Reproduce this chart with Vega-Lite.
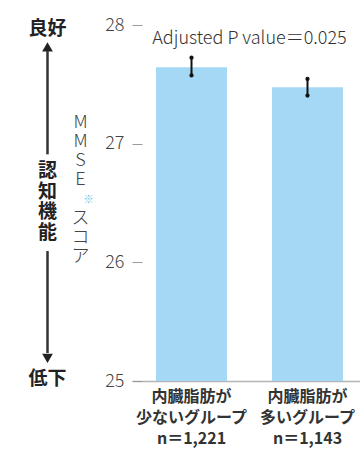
{
  "$schema": "https://vega.github.io/schema/vega-lite/v6.json",
  "padding": {"left": 0, "top": 16, "right": 0, "bottom": 12},
  "bounds": "flush",
  "spacing": 37,
  "config": {"view": {"stroke": null}, "font": "Noto Sans CJK JP"},
  "hconcat": [
    {
      "width": 95,
      "height": 356,
      "layer": [
        {
          "data": {"values": [{"label": "良好", "v": 27.97}, {"label": "低下", "v": 25.02}]},
          "mark": {"type": "text", "fontSize": 19, "fontWeight": "bold", "color": "#222", "baseline": "middle"},
          "encoding": {
            "y": {"field": "v", "type": "quantitative", "scale": {"domain": [25, 28], "nice": false, "zero": false}, "axis": null},
            "text": {"field": "label"}
          }
        },
        {
          "data": {"values": [{"y1": 27.78, "y2": 26.91}, {"y1": 26.095, "y2": 25.236}]},
          "mark": {"type": "rule", "color": "#333", "strokeWidth": 2.5},
          "encoding": {
            "y": {"field": "y1", "type": "quantitative", "scale": {"domain": [25, 28], "nice": false, "zero": false}, "axis": null},
            "y2": {"field": "y2"}
          }
        },
        {
          "data": {"values": [{}]},
          "mark": {"type": "point", "shape": "triangle-up", "filled": true, "color": "#222", "size": 115, "opacity": 1},
          "encoding": {"y": {"datum": 27.815, "type": "quantitative", "scale": {"domain": [25, 28], "nice": false, "zero": false}, "axis": null}}
        },
        {
          "data": {"values": [{}]},
          "mark": {"type": "point", "shape": "triangle-down", "filled": true, "color": "#222", "size": 115, "opacity": 1},
          "encoding": {"y": {"datum": 25.19, "type": "quantitative", "scale": {"domain": [25, 28], "nice": false, "zero": false}, "axis": null}}
        },
        {
          "data": {"values": [{}]},
          "mark": {"type": "text", "fontSize": 19, "fontWeight": "bold", "color": "#222", "baseline": "middle", "lineHeight": 20.7},
          "encoding": {
            "y": {"datum": 26.77, "type": "quantitative", "scale": {"domain": [25, 28], "nice": false, "zero": false}, "axis": null},
            "text": {"value": ["認", "知", "機", "能"]}
          }
        },
        {
          "data": {"values": [{}]},
          "mark": {"type": "text", "fontSize": 18, "fontWeight": 300, "color": "#444", "baseline": "middle", "dx": 33},
          "encoding": {"y": {"datum": 27.174, "type": "quantitative", "scale": {"domain": [25, 28], "nice": false, "zero": false}, "axis": null}, "text": {"value": "M"}}
        },
        {
          "data": {"values": [{}]},
          "mark": {"type": "text", "fontSize": 18, "fontWeight": 300, "color": "#444", "baseline": "middle", "dx": 33},
          "encoding": {"y": {"datum": 27.013, "type": "quantitative", "scale": {"domain": [25, 28], "nice": false, "zero": false}, "axis": null}, "text": {"value": "M"}}
        },
        {
          "data": {"values": [{}]},
          "mark": {"type": "text", "fontSize": 18, "fontWeight": 300, "color": "#444", "baseline": "middle", "dx": 33},
          "encoding": {"y": {"datum": 26.851, "type": "quantitative", "scale": {"domain": [25, 28], "nice": false, "zero": false}, "axis": null}, "text": {"value": "S"}}
        },
        {
          "data": {"values": [{}]},
          "mark": {"type": "text", "fontSize": 18, "fontWeight": 300, "color": "#444", "baseline": "middle", "dx": 33},
          "encoding": {"y": {"datum": 26.69, "type": "quantitative", "scale": {"domain": [25, 28], "nice": false, "zero": false}, "axis": null}, "text": {"value": "E"}}
        },
        {
          "data": {"values": [{}]},
          "mark": {"type": "text", "fontSize": 10, "color": "#5bbce8", "baseline": "middle", "dx": 41},
          "encoding": {"y": {"datum": 26.529, "type": "quantitative", "scale": {"domain": [25, 28], "nice": false, "zero": false}, "axis": null}, "text": {"value": "※"}}
        },
        {
          "data": {"values": [{}]},
          "mark": {"type": "text", "fontSize": 18, "fontWeight": 300, "color": "#444", "baseline": "middle", "dx": 33},
          "encoding": {"y": {"datum": 26.368, "type": "quantitative", "scale": {"domain": [25, 28], "nice": false, "zero": false}, "axis": null}, "text": {"value": "ス"}}
        },
        {
          "data": {"values": [{}]},
          "mark": {"type": "text", "fontSize": 18, "fontWeight": 300, "color": "#444", "baseline": "middle", "dx": 33},
          "encoding": {"y": {"datum": 26.207, "type": "quantitative", "scale": {"domain": [25, 28], "nice": false, "zero": false}, "axis": null}, "text": {"value": "コ"}}
        },
        {
          "data": {"values": [{}]},
          "mark": {"type": "text", "fontSize": 18, "fontWeight": 300, "color": "#444", "baseline": "middle", "dx": 33},
          "encoding": {"y": {"datum": 26.045, "type": "quantitative", "scale": {"domain": [25, 28], "nice": false, "zero": false}, "axis": null}, "text": {"value": "ア"}}
        }
      ]
    },
    {
      "width": 235,
      "height": 356,
      "data": {
        "values": [
          {"group": "内臓脂肪が\n少ないグループ\nn＝1,221", "mean": 27.645, "lower": 27.575, "upper": 27.725},
          {"group": "内臓脂肪が\n多いグループ\nn＝1,143", "mean": 27.475, "lower": 27.405, "upper": 27.545}
        ]
      },
      "encoding": {
        "x": {
          "field": "group",
          "type": "nominal",
          "sort": null,
          "scale": {"paddingInner": 0.388, "paddingOuter": 0.207},
          "axis": {
            "title": null,
            "labelAngle": 0,
            "labelExpr": "split(datum.label, '\\n')",
            "labelFontSize": 16,
            "labelFontWeight": "bold",
            "labelColor": "#333",
            "labelLineHeight": 21,
            "labelPadding": 7,
            "ticks": false,
            "tickSize": 0,
            "domainColor": "#b5b5b5",
            "domainWidth": 1.5
          }
        }
      },
      "layer": [
        {
          "mark": {"type": "bar", "color": "#a5d8f5"},
          "encoding": {
            "y": {
              "field": "mean",
              "type": "quantitative",
              "scale": {"domain": [25, 28], "nice": false, "zero": false},
              "axis": {
                "title": null,
                "values": [25, 26, 27, 28],
                "format": "d",
                "domain": false,
                "grid": false,
                "offset": -10,
                "tickSize": 10,
                "tickColor": "#9a9a9a",
                "tickWidth": 1,
                "labelPadding": 8,
                "labelFontSize": 18,
                "labelFontWeight": 300,
                "labelColor": "#444"
              }
            },
            "y2": {"datum": 25}
          }
        },
        {
          "mark": {"type": "rule", "color": "#111", "strokeWidth": 2},
          "encoding": {
            "y": {"field": "lower", "type": "quantitative"},
            "y2": {"field": "upper"}
          }
        },
        {
          "mark": {"type": "point", "filled": true, "color": "#111", "size": 18, "opacity": 1},
          "encoding": {"y": {"field": "lower", "type": "quantitative"}}
        },
        {
          "mark": {"type": "point", "filled": true, "color": "#111", "size": 18, "opacity": 1},
          "encoding": {"y": {"field": "upper", "type": "quantitative"}}
        },
        {
          "data": {"values": [{"note": "Adjusted P value＝0.025", "v": 27.882}]},
          "mark": {"type": "text", "fontSize": 18, "fontWeight": 300, "color": "#333", "baseline": "middle"},
          "encoding": {
            "x": null,
            "y": {"field": "v", "type": "quantitative"},
            "text": {"field": "note"}
          }
        }
      ]
    }
  ]
}
